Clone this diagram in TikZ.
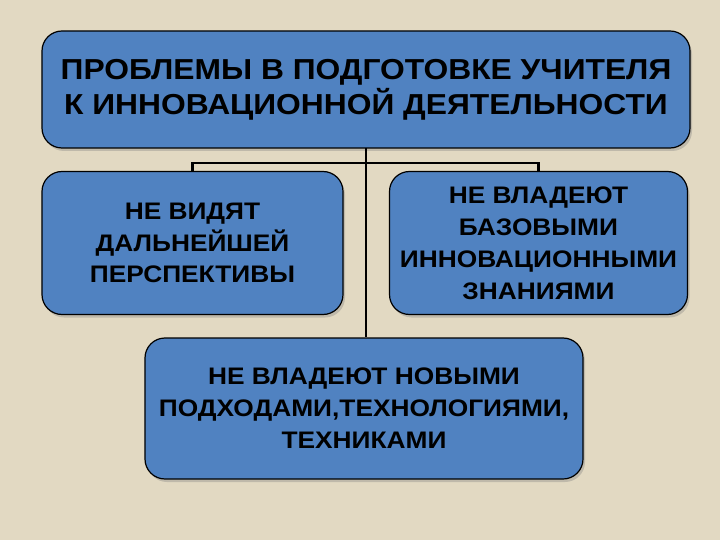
\documentclass[tikz,border=0pt]{standalone}
\usepackage{fontspec}
\setmainfont[FakeStretch=1.1]{Liberation Sans}
\usetikzlibrary{shadows}
\definecolor{boxblue}{RGB}{80,130,193}
\definecolor{linen}{RGB}{226,217,194}
\begin{document}
\begin{tikzpicture}[
        x=1bp, y=-1bp,
        thick,
        font=\bfseries
    ]
    \tikzset{
        probbox/.style = {rectangle, rounded corners=20bp, draw=black, line width=1.2bp,
                          fill=boxblue, align=center, inner sep=0pt,
                          drop shadow={shadow xshift=2bp, shadow yshift=-3bp, opacity=0.35}},
        bigtext/.style = {font=\bfseries\fontsize{29}{35}\selectfont},
        smalltext/.style = {font=\bfseries\fontsize{24}{32}\selectfont},
        edgel/.style = {-, line width=2.6bp, black},
    }
    \fill[linen] (0,0) rectangle (720,540);
    \useasboundingbox (0,0) rectangle (720,540);
    %
    \node[probbox, bigtext, minimum width=648bp, minimum height=117bp] at (366,89.5) (top)
        {ПРОБЛЕМЫ В ПОДГОТОВКЕ УЧИТЕЛЯ\\К ИННОВАЦИОННОЙ ДЕЯТЕЛЬНОСТИ};
    \node[probbox, smalltext, minimum width=301bp, minimum height=143bp] at (192.5,243) (left)
        {НЕ ВИДЯТ\\ДАЛЬНЕЙШЕЙ\\ПЕРСПЕКТИВЫ};
    \node[probbox, smalltext, minimum width=298bp, minimum height=143bp] at (538.5,243) (right)
        {НЕ ВЛАДЕЮТ\\БАЗОВЫМИ\\ИННОВАЦИОННЫМИ\\ЗНАНИЯМИ};
    \node[probbox, smalltext, minimum width=438bp, minimum height=141bp] at (364,408.5) (bottom)
        {НЕ ВЛАДЕЮТ НОВЫМИ\\ПОДХОДАМИ,ТЕХНОЛОГИЯМИ,\\ТЕХНИКАМИ};
    %
    \coordinate (trunk) at (366,148);
    \coordinate (lknee) at (left.north |- 0,163);
    \coordinate (rknee) at (right.north |- 0,163);
    %
    \draw[edgel] (trunk) -- (trunk |- bottom.north);
    \draw[edgel] (left.north) -- (lknee) -- (rknee) -- (right.north);
\end{tikzpicture}
\end{document}
